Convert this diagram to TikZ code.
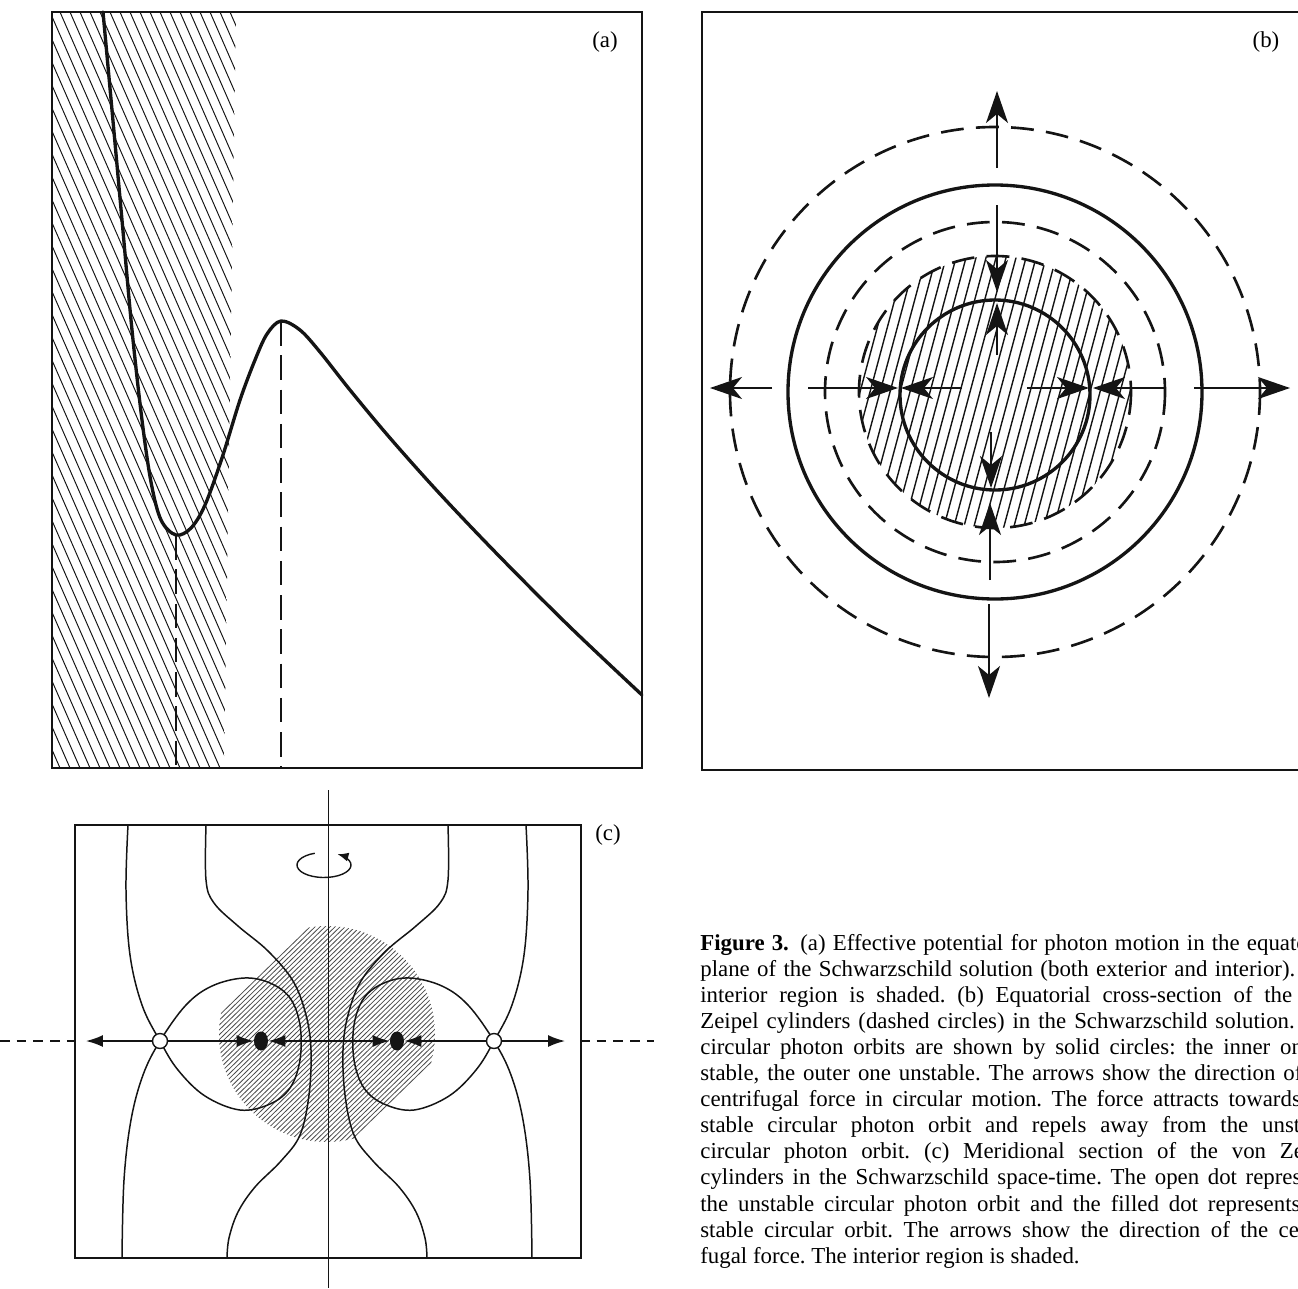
\documentclass[tikz,border=0pt]{standalone}
\usepackage{fontspec}
\setmainfont{Liberation Serif}
\usetikzlibrary{arrows.meta,calc,shapes.geometric}
\definecolor{ink}{HTML}{141414}
\definecolor{shade}{HTML}{4A4A4A}
\definecolor{paper}{HTML}{FFFFFF}
\newcommand\capw{12.76cm}
\frenchspacing
\tikzset{
  panelframe/.style={draw=ink,line width=1.0pt},
  potcurve/.style={draw=ink,line width=1.9pt,line join=round,line cap=round},
  levelline/.style={draw=ink,line width=1.3pt,dash pattern=on 14pt off 5.5pt},
  hatcha/.style={draw=ink,line width=0.55pt},
  hatchb/.style={draw=ink,line width=0.8pt},
  hatchc/.style={draw=shade,line width=0.45pt},
  solidorbit/.style={draw=ink,line width=1.9pt},
  zeipel/.style={draw=ink,line width=1.5pt,dash pattern=on 13pt off 7pt},
  bigarr/.style={-{Stealth[length=6.4mm,width=4.4mm,inset=1.8mm]},draw=ink,line width=1.1pt},
  cylline/.style={draw=ink,line width=0.85pt},
  axisline/.style={draw=ink,line width=0.55pt},
  carr/.style={-{Latex[length=3.4mm,width=2.4mm]},draw=ink,line width=0.9pt},
  cdash/.style={draw=ink,line width=0.7pt,dash pattern=on 5.5pt off 4pt},
  opendot/.style={circle,draw=ink,fill=paper,line width=0.8pt,minimum size=0.3cm,inner sep=0pt},
  filldot/.style={ellipse,fill=ink,minimum width=0.28cm,minimum height=0.38cm,inner sep=0pt},
  panellabel/.style={font=\fontsize{13}{15}\selectfont,inner sep=0pt},
  capline/.style={font=\fontsize{13}{15}\selectfont,anchor=base west,inner sep=0pt}
}

\begin{document}
\begin{tikzpicture}[x=0.02cm,y=-0.02cm]
  \useasboundingbox (0,0) rectangle (1298,1288);

  % (a) effective potential
  \begin{scope}
    \clip (52,12) -- (236,12) -- (224,768) -- (52,768) -- cycle;
    \foreach \s in {-340,-330,...,240}
      \draw[hatcha] (\s,12) -- (\s+330,768);
  \end{scope}
  \draw[panelframe] (52,12) rectangle (642,768);
  \coordinate (amin) at (176,535);
  \coordinate (amax) at (281,321);
  \draw[potcurve] plot[smooth,tension=0.55] coordinates {(103,12) (112,110) (122,220) (132,330)
    (142,420) (151,482) (161,520) (amin) (191,528) (205,505) (222,458) (240,400) (255,360)
    (267,334) (amax) (300,330) (320,352) (350,390) (390,438) (440,494) (500,557) (570,627)
    (642,695)};
  \draw[levelline] (amin) -- (amin |- 0,768);
  \draw[levelline] (amax) -- (amax |- 0,768);
  \node[panellabel] (labA) at (605,42) {(a)};

  % (b) equatorial cross-section
  \coordinate (bC) at (995,392);
  \begin{scope}
    \clip (bC) circle[radius=136];
    \foreach \s in {850,860,...,1150}
      \draw[hatchb] (\s-37,530) -- (\s+37,254);
  \end{scope}
  \draw[panelframe] (702,12) rectangle (1300,770);
  \foreach \r in {265,170,136}
    \draw[zeipel] (bC) circle[radius=\r];
  \draw[solidorbit] (bC) circle[radius=207];
  \draw[solidorbit] (995,395) circle[radius=95];
  \coordinate (upT) at (997,168);   \coordinate (upH) at (997,91);
  \coordinate (dnT) at (989,604);   \coordinate (dnH) at (989,698);
  \coordinate (lfT) at (772,388);   \coordinate (lfH) at (710,388);
  \coordinate (rtT) at (1194,388);  \coordinate (rtH) at (1290,388);
  \coordinate (topOutT) at (997,205); \coordinate (topOutH) at (997,292);
  \coordinate (topInT) at (997,355);  \coordinate (topInH) at (997,303);
  \coordinate (botInT) at (991,432);  \coordinate (botInH) at (991,488);
  \coordinate (botOutT) at (990,580); \coordinate (botOutH) at (990,503);
  \coordinate (lftOutT) at (808,388); \coordinate (lftOutH) at (898,388);
  \coordinate (lftInT) at (962,388);  \coordinate (lftInH) at (901,388);
  \coordinate (rgtInT) at (1027,388); \coordinate (rgtInH) at (1089,388);
  \coordinate (rgtOutT) at (1165,388);\coordinate (rgtOutH) at (1093,388);
  \foreach \a/\b in {upT/upH,dnT/dnH,lfT/lfH,rtT/rtH,topOutT/topOutH,topInT/topInH,
      botInT/botInH,botOutT/botOutH,lftOutT/lftOutH,lftInT/lftInH,rgtInT/rgtInH,rgtOutT/rgtOutH}
    \draw[bigarr] (\a) -- (\b);
  \node[panellabel] (labB) at (1266,42) {(b)};

  % (c) meridional section
  \begin{scope}
    \clip (327,1034) circle[radius=108];
    \foreach \s in {200,205,...,460}
      \draw[hatchc] (\s-115,1146) -- (\s+115,922);
  \end{scope}
  \draw[cylline] (75,825) rectangle (581,1258);
  \draw[axisline] (328,790) -- (328,1288);
  \draw[cylline] plot[smooth,tension=0.6] coordinates {(128,825) (126,890) (130,955) (142,1005)
    (160,1041) (178,1070) (205,1096) (240,1110) (270,1104) (290,1088) (300,1060) (300,1025)
    (290,998) (270,983) (244,978) (212,986) (186,1005) (160,1041) (143,1075) (131,1120)
    (124,1180) (122,1258)};
  \draw[cylline] plot[smooth,tension=0.6] coordinates {(526,825) (528,890) (524,955) (512,1005)
    (494,1041) (476,1070) (449,1096) (414,1110) (384,1104) (364,1088) (354,1060) (354,1025)
    (364,998) (384,983) (410,978) (442,986) (468,1005) (494,1041) (511,1075) (523,1120)
    (530,1180) (532,1258)};
  \draw[cylline] plot[smooth,tension=0.6] coordinates {(206,825) (206,880) (214,903) (238,926)
    (268,951) (293,981) (306,1015) (311,1050) (309,1095) (300,1135) (281,1161) (255,1187)
    (238,1212) (229,1238) (227,1258)};
  \draw[cylline] plot[smooth,tension=0.6] coordinates {(448,825) (448,880) (440,903) (416,926)
    (386,951) (361,981) (348,1015) (343,1050) (345,1095) (354,1135) (373,1161) (399,1187)
    (416,1212) (425,1238) (427,1258)};
  \coordinate (rot) at (324,865);
  \draw[carr,line width=0.8pt,-{Latex[length=2.2mm,width=1.8mm]}]
    ($(rot)+(250:27 and 12.5)$) arc[start angle=250,end angle=-60,x radius=27,y radius=12.5];
  \node[opendot] (uL) at (160,1041) {};
  \node[filldot] (sL) at (261,1041) {};
  \node[filldot] (sR) at (397,1041) {};
  \node[opendot] (uR) at (494,1041) {};
  \coordinate (axC) at (328,1041);
  \coordinate (farL) at (86,1041);
  \coordinate (farR) at (565,1041);
  \coordinate (dashL0) at (0,1041);   \coordinate (dashL1) at (78,1041);
  \coordinate (dashR0) at (580,1041); \coordinate (dashR1) at (654,1041);
  \draw[carr] (uL) -- (farL);
  \draw[carr] (uL) -- (sL);
  \draw[carr] (axC) -- (sL);
  \draw[carr] (axC) -- (sR);
  \draw[carr] (uR) -- (sR);
  \draw[carr] (uR) -- (farR);
  \draw[cdash] (dashL0) -- (dashL1);
  \draw[cdash] (dashR0) -- (dashR1);
  \node[panellabel] (labC) at (608,835) {(c)};

  % caption
  \foreach \i/\txt in {
    1/{\textbf{Figure 3.}\enspace(a) Effective potential for photon motion in the equatorial},
    2/{plane of the Schwarzschild solution (both exterior and interior). The},
    3/{interior region is shaded. (b) Equatorial cross-section of the von},
    4/{Zeipel cylinders (dashed circles) in the Schwarzschild solution. The},
    5/{circular photon orbits are shown by solid circles: the inner one is},
    6/{stable, the outer one unstable. The arrows show the direction of the},
    7/{centrifugal force in circular motion. The force attracts towards the},
    8/{stable circular photon orbit and repels away from the unstable},
    9/{circular photon orbit. (c) Meridional section of the von Zeipel},
    10/{cylinders in the Schwarzschild space-time. The open dot represents},
    11/{the unstable circular photon orbit and the filled dot represents the},
    12/{stable circular orbit. The arrows show the direction of the centri-}} {
    \node[capline] (cap\i) at (700,{950+26.1*(\i-1)}) {\makebox[\capw][s]{\txt}};
  }
  \node[capline] (cap13) at (700,1263.2) {fugal force. The interior region is shaded.};
\end{tikzpicture}
\end{document}
